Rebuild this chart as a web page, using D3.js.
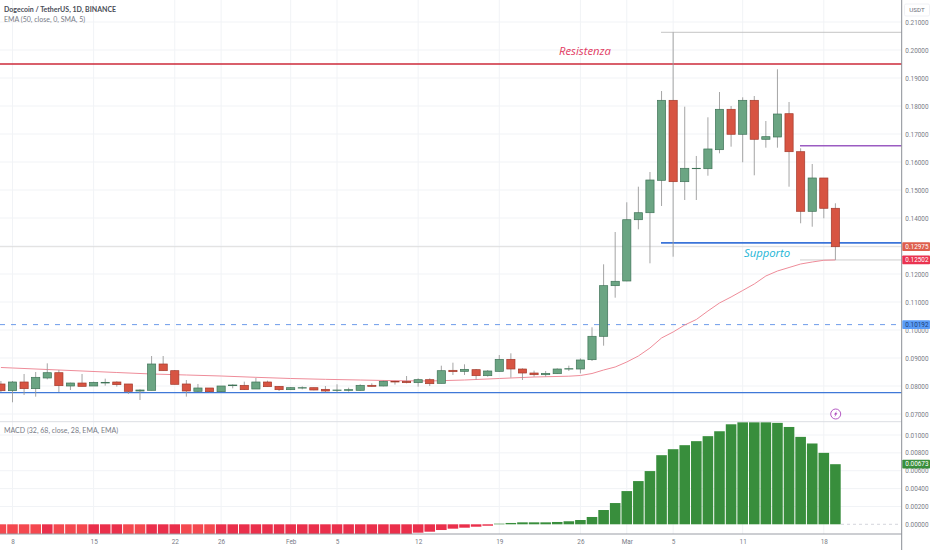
<!DOCTYPE html>
<html><head><meta charset="utf-8">
<script src="https://cdn.jsdelivr.net/npm/d3@7"></script>
<style>
html,body{margin:0;padding:0;background:#fff;overflow:hidden}
svg{display:block;font-family:"Open Sans",sans-serif}
</style></head><body><svg id="c" width="932" height="550"></svg>
<script>
// ---- data ----
const firstBar = -1;
const opens  = [.08072,.07832,.08143,.07905,.08286,.08475,.08000,.08107,.08000,.08107,.08143,.08072,.07821,.07846,.08786,.08547,.08072,.07810,.07929,.07798,.08012,.08024,.07893,.08143,.07988,.07869,.07929,.07940,.07881,.07846,.07846,.07846,.08024,.08000,.08167,.08167,.08119,.08226,.08095,.08560,.08524,.08583,.08369,.08524,.08952,.08607,.08464,.08404,.08440,.08607,.08607,.08940,.09775,.11583,.11750,.13939,.14189,.15346,.18203,.15297,.15761,.15761,.16440,.17882,.16990,.18203,.16811,.16893,.17725,.16368,.14239,.15429,.14347];
const highs  = [.08179,.08179,.08429,.08500,.08810,.08571,.08119,.08429,.08155,.08262,.08167,.08072,.07881,.09071,.09071,.08571,.08214,.08072,.07929,.08000,.08060,.08155,.08286,.08190,.08000,.07964,.07988,.07940,.08000,.08060,.07940,.08060,.08095,.08190,.08190,.08357,.08274,.08274,.08726,.08833,.08774,.08607,.08571,.09107,.09167,.08631,.08548,.08536,.08631,.08726,.08988,.10097,.12346,.13500,.14561,.15118,.15643,.18535,.20632,.17975,.16215,.17596,.18500,.18000,.18310,.18357,.17464,.19311,.18143,.16490,.15929,.15429,.14525];
const lows   = [.07786,.07418,.07679,.07619,.08238,.07786,.07857,.07988,.08000,.08012,.07976,.07714,.07500,.07846,.08547,.08060,.07619,.07798,.07774,.07786,.07917,.07857,.07893,.07976,.07821,.07857,.07881,.07846,.07774,.07774,.07798,.07832,.07976,.07988,.08048,.08095,.07976,.08000,.08095,.08393,.08393,.08226,.08333,.08512,.08298,.08214,.08333,.08333,.08429,.08536,.08452,.08893,.09440,.11154,.11740,.13596,.12382,.14429,.12618,.14643,.14643,.15511,.16311,.16547,.15990,.15525,.16511,.16511,.15118,.13811,.13689,.13989,.12502];
const closes = [.07832,.08143,.07905,.08310,.08475,.08012,.08107,.07988,.08131,.08131,.08048,.07810,.07857,.08786,.08547,.08060,.07821,.07929,.07798,.08000,.08036,.07869,.08143,.07976,.07869,.07940,.07940,.07857,.07821,.07857,.07869,.08024,.07988,.08167,.08143,.08119,.08226,.08083,.08547,.08512,.08595,.08369,.08536,.08952,.08607,.08464,.08404,.08452,.08607,.08619,.08929,.09775,.11583,.11740,.13939,.14189,.15357,.18203,.15297,.15775,.15775,.16465,.17882,.16990,.18203,.16811,.16904,.17714,.16368,.14239,.15429,.14347,.12975];
const emaBars   = [-1,0,3,6,9,12,15,18,21,24,27,30,33,36,39,42,45,48,49,50,51,52,53,54,55,56,57,58,59,60,61,62,63,64,65,66,67,68,69,70,71];
const emaValues = [.08661,.08643,.08589,.08536,.08482,.08429,.08393,.08357,.08310,.08268,.08238,.08214,.08190,.08179,.08214,.08268,.08321,.08350,.08375,.08446,.08571,.08679,.08857,.09071,.09357,.09715,.09929,.10179,.10375,.10679,.10965,.11179,.11411,.11643,.11929,.12107,.12232,.12357,.12429,.12490,.12502];
const macdHist = [-.0012,-.0012,-.0012,-.0012,-.0012,-.0012,-.0012,-.0012,-.0012,-.0012,-.0012,-.0012,-.0012,-.0012,-.0012,-.0012,-.0012,-.0012,-.0012,-.0012,-.0012,-.0012,-.0012,-.0012,-.0012,-.0012,-.0012,-.0012,-.0012,-.0012,-.0012,-.0012,-.0012,-.0012,-.0012,-.0012,-.00094,-.00083,-.00064,-.00049,-.00038,-.00027,-.00016,.00007,.00015,.00022,.00022,.00022,.00026,.00034,.00048,.00082,.0016,.00238,.00372,.00484,.00596,.00774,.00841,.00886,.00931,.00987,.01042,.0112,.01143,.01143,.01143,.01136,.0109,.00979,.00905,.008,.00673];
const lightRedBars = [-1,0,1,2,4,5,6,10,11,15,16,17];
const priceTicks = [.21,.20,.19,.18,.17,.16,.15,.14,.13,.12,.11,.10,.09,.08,.07];
const macdTicks  = [.01,.008,.006,.004,.002,0];
const dateTickBars = [0,7,14,18,24,28,35,42,49,53,57,63,70];
const dateTickLabels = ["8","15","22","26","Feb","5","12","19","26","Mar","5","11","18"];
const resistance=.195, highLine=.20632, midLine=.16583, support=.1311, lastClose=.12975, emaLast=.12502, dashed=.10192, floorLine=.07765, macdLast=.00673;

const svg = d3.select("#c");
const R=901.7, sep=421.7, bot=534;
const x = d3.scaleLinear().domain([0,71]).range([12.5,835.4]);
const y = d3.scaleLinear().domain([.20,.07]).range([50,414]);
const m = d3.scaleLinear().domain([0,.01]).range([524.3,435]);
const bars = d3.range(opens.length).map(i=>({b:i+firstBar,o:opens[i],h:highs[i],l:lows[i],c:closes[i],v:macdHist[i]}));

const defs=svg.append("defs");
defs.append("clipPath").attr("id","p1").append("rect").attr("x",0).attr("y",0).attr("width",R).attr("height",sep);
defs.append("clipPath").attr("id","p2").append("rect").attr("x",0).attr("y",sep).attr("width",R).attr("height",bot-sep);

// grid
const grid=svg.append("g").attr("stroke","#f1f3f6").attr("stroke-width",1);
grid.selectAll(".gx").data(dateTickBars).join("line").attr("x1",d=>x(d)).attr("x2",d=>x(d)).attr("y1",0).attr("y2",bot);
grid.selectAll(".gy").data(priceTicks).join("line").attr("x1",0).attr("x2",R).attr("y1",d=>y(d)).attr("y2",d=>y(d));
grid.selectAll(".gm").data(macdTicks.slice(0,5)).join("line").attr("x1",0).attr("x2",R).attr("y1",d=>m(d)).attr("y2",d=>m(d));

// macd
const pm=svg.append("g").attr("clip-path","url(#p2)");
pm.append("line").attr("x1",841).attr("x2",R).attr("y1",m(0)).attr("y2",m(0)).attr("stroke","#c9ccd3").attr("stroke-dasharray","3 3").attr("stroke-width",.8);
pm.selectAll("rect").data(bars).join("rect")
 .attr("x",d=>x(d.b)-5.3).attr("width",10.6)
 .attr("y",d=>d.v>=0?m(d.v):m(0)).attr("height",d=>Math.abs(m(d.v)-m(0)))
 .attr("fill",d=>d.v>=0?"#388e3c":(lightRedBars.includes(d.b)?"#f4484f":"#ea2f4b"));

// price lines
const hl=(v,x1,x2,col,w,dash)=>{const l=svg.append("line").attr("x1",x1).attr("x2",x2).attr("y1",y(v)).attr("y2",y(v)).attr("stroke",col).attr("stroke-width",w);if(dash)l.attr("stroke-dasharray",dash);};
hl(lastClose,0,R,"#d6d6d6",.8);
hl(emaLast,800,R,"#c8c8c8",.9);
hl(highLine,661,R,"#bdbdbd",.9);
hl(dashed,0,R,"#5b8fe6",.9,"5 6");
hl(floorLine,0,R,"#3f78d8",1.2);
hl(resistance,0,R,"#cc2a3a",1.3);
hl(midLine,800,R,"#9b5cc2",1.6);
hl(support,661,R,"#3b74d9",1.6);

// ema
const pp=svg.append("g").attr("clip-path","url(#p1)");
pp.append("path").attr("fill","none").attr("stroke","#ee8c99").attr("stroke-width",1)
 .attr("d",d3.line().x((d,i)=>x(emaBars[i])).y(d=>y(d))(emaValues));

// candles
const up=d=>d.c>=d.o;
const cg=pp.selectAll(".cdl").data(bars).join("g");
cg.append("line").attr("x1",d=>x(d.b)).attr("x2",d=>x(d.b)).attr("y1",d=>y(d.h)).attr("y2",d=>y(d.l)).attr("stroke","#9b9b9b").attr("stroke-width",.9);
cg.append("rect").attr("x",d=>x(d.b)-4.1).attr("width",8.2)
 .attr("y",d=>y(Math.max(d.o,d.c))).attr("height",d=>Math.max(.4,Math.abs(y(d.o)-y(d.c))))
 .attr("fill",d=>up(d)?"#6ba583":"#d75442").attr("stroke",d=>up(d)?"#3f7357":"#a33a2c").attr("stroke-width",.7);

// axes lines
svg.append("line").attr("x1",0).attr("x2",R).attr("y1",sep).attr("y2",sep).attr("stroke","#dcdee3").attr("stroke-width",1);
svg.append("line").attr("x1",0).attr("x2",R).attr("y1",bot).attr("y2",bot).attr("stroke","#9a9da5").attr("stroke-width",1);
svg.append("line").attr("x1",R).attr("x2",R).attr("y1",0).attr("y2",550).attr("stroke","#8b8e96").attr("stroke-width",1);

const tickFont={size:6.4,col:"#787b86"};
const styleAxis=g=>{g.select(".domain").remove();g.selectAll(".tick line").remove();g.selectAll("text").attr("font-size",tickFont.size).attr("fill",tickFont.col).attr("font-family","Roboto,sans-serif");};
svg.append("g").attr("transform",`translate(${R},0)`).call(d3.axisRight(y).tickValues(priceTicks).tickFormat(d=>d.toFixed(5)).tickSize(0).tickPadding(3.6)).call(styleAxis);
svg.append("g").attr("transform",`translate(${R},0)`).call(d3.axisRight(m).tickValues(macdTicks).tickFormat(d=>d.toFixed(5)).tickSize(0).tickPadding(3.6)).call(styleAxis);
svg.append("g").attr("transform",`translate(0,${bot})`).call(d3.axisBottom(x).tickValues(dateTickBars).tickFormat((d,i)=>dateTickLabels[i]).tickSize(0).tickPadding(5.4)).call(styleAxis);

// axis tags
const tag=(v,sc,bg,fg)=>{const yy=sc(v);
 svg.append("rect").attr("x",902.3).attr("y",yy-4.4).attr("width",27.7).attr("height",8.8).attr("fill",bg).attr("rx",.8);
 svg.append("text").attr("x",905.3).attr("y",yy).attr("dy",".35em").attr("font-size",tickFont.size).attr("font-family","Roboto,sans-serif").attr("fill",fg).text(v.toFixed(5));};
tag(lastClose,y,"#de5e4c","#fff");
tag(emaLast,y,"#ea3350","#fff");
tag(dashed,y,"#5b9cf6","#1d3f78");
tag(macdLast,m,"#388e3c","#fff");

// currency box
svg.append("rect").attr("x",904.5).attr("y",4).attr("width",25).attr("height",12).attr("fill","#fff").attr("stroke","#eceef2").attr("stroke-width",.8).attr("rx",1.5);
svg.append("text").attr("x",917).attr("y",10).attr("dy",".35em").attr("text-anchor","middle").attr("font-size",6.2).attr("font-family","Roboto,sans-serif").attr("fill","#6a6d78").text("USDT");

// legends
const lg=(t,xx,yy,w,col)=>svg.append("text").attr("x",xx).attr("y",yy).attr("dy",".35em").attr("font-size",7).attr("font-family","Lato,sans-serif").attr("font-weight",w).attr("fill",col).text(t);
lg("Dogecoin / TetherUS, 1D, BINANCE",4,9.3,700,"#4a4d57");
lg("EMA (50, close, 0, SMA, 5)",4,19.5,400,"#787b86");
lg("MACD (32, 68, close, 28, EMA, EMA)",4,431,400,"#787b86");

// annotations
const note=(t,xx,yy,col)=>svg.append("text").attr("x",xx).attr("y",yy).attr("dy",".35em").attr("font-size",11.3).attr("font-style","italic").attr("font-weight",500).attr("fill",col).text(t);
note("Resistenza",559,51,"#e23b63");
note("Supporto",744,253,"#22b5d6");

// bolt badge
const bx=svg.append("g").attr("transform","translate(835.7,414)");
bx.append("circle").attr("r",5).attr("fill","#fff").attr("stroke","#ab47bc").attr("stroke-width",.9);
bx.append("path").attr("d","M1.2,-3 L-1.8,0.6 L-0.2,0.6 L-1.2,3 L1.8,-0.8 L0.2,-0.8 Z").attr("fill","#ab47bc");
</script></body></html>
